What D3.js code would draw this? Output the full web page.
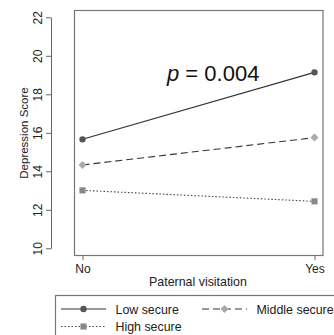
<!DOCTYPE html>
<html><head><meta charset="utf-8">
<script src="https://cdn.jsdelivr.net/npm/d3@7"></script>
<style>body{margin:0;background:#fff}svg{display:block;font-family:"Liberation Sans",Arial,sans-serif}</style>
</head><body>
<svg id="c" width="334" height="335"></svg>
<script>
const categories = ["No", "Yes"];
const seriesNames = ["Low secure", "Middle secure", "High secure"];
const lowSecure = [15.66, 19.14];
const middleSecure = [14.33, 15.75];
const highSecure = [13.01, 12.44];
const yTicks = [10, 12, 14, 16, 18, 20, 22];
const annotation = "0.004";

const svg = d3.select("#c");
const x = d3.scalePoint().domain(categories).range([82.5, 314.5]);
const y = d3.scaleLinear().domain([10, 22]).range([248.3, 17.3]);

// plot box
svg.append("rect").attr("x", 74.5).attr("y", 10.5).attr("width", 248.5).attr("height", 245)
  .attr("fill", "none").attr("stroke", "#777").attr("stroke-width", 1.2);

// y axis
const ya = svg.append("g").attr("transform", "translate(51,0)")
  .call(d3.axisLeft(y).tickValues(yTicks).tickSize(5).tickSizeOuter(0));
ya.select(".domain").attr("stroke", "#666");
ya.selectAll(".tick line").attr("stroke", "#666");
ya.selectAll(".tick text").attr("font-size", 12).attr("fill", "#222")
  .attr("transform", "rotate(-90)").attr("x", 0).attr("y", -9)
  .attr("text-anchor", "middle").attr("dy", "0");

// x axis
const xa = svg.append("g").attr("transform", "translate(0,255)")
  .call(d3.axisBottom(x).tickSize(5).tickSizeOuter(0));
xa.select(".domain").remove();
xa.selectAll(".tick line").attr("stroke", "#666");
xa.selectAll(".tick text").attr("font-size", 12).attr("fill", "#222").attr("y", 9).attr("dy", "0.71em");

// axis titles
svg.append("text").attr("transform", "translate(28,133) rotate(-90)")
  .attr("text-anchor", "middle").attr("font-size", 11.5).attr("fill", "#222").text("Depression Score");
svg.append("text").attr("x", 198).attr("y", 285.5).attr("text-anchor", "middle")
  .attr("font-size", 12.4).attr("fill", "#222").text("Paternal visitation");

// series
const series = [
  {name: seriesNames[0], values: lowSecure, dash: null, stroke: "#333", marker: "circle", fill: "#555"},
  {name: seriesNames[1], values: middleSecure, dash: "7,4", stroke: "#333", marker: "diamond", fill: "#aaa"},
  {name: seriesNames[2], values: highSecure, dash: "1.5,2", stroke: "#444", marker: "square", fill: "#888"}
];
const markerPath = {
  circle: d3.symbol().type(d3.symbolCircle).size(32),
  diamond: d3.symbol().type(d3.symbolSquare).size(32),
  square: d3.symbol().type(d3.symbolSquare).size(38)
};
const line = d3.line().x((d, i) => x(categories[i])).y(d => y(d));
series.forEach(s => {
  svg.append("path").datum(s.values).attr("d", line).attr("fill", "none")
    .attr("stroke", s.stroke).attr("stroke-width", 1.1).attr("stroke-dasharray", s.dash);
  s.values.forEach((v, i) => {
    svg.append("path").attr("d", markerPath[s.marker]())
      .attr("transform", `translate(${x(categories[i])},${y(v)})` + (s.marker === "diamond" ? " rotate(45)" : ""))
      .attr("fill", s.fill);
  });
});

// annotation
const ann = svg.append("text").attr("x", 167).attr("y", 81).attr("font-size", 22).attr("fill", "#111");
ann.append("tspan").attr("font-style", "italic").text("p");
ann.append("tspan").text(" = " + annotation);

// legend
svg.append("rect").attr("x", 55.5).attr("y", 295.5).attr("width", 290).attr("height", 60)
  .attr("fill", "none").attr("stroke", "#777").attr("stroke-width", 1.2);
const legPos = [[61, 309], [202, 309], [61, 326.5]];
series.forEach((s, k) => {
  const [lx, ly] = legPos[k];
  svg.append("line").attr("x1", lx).attr("x2", lx + 45).attr("y1", ly).attr("y2", ly)
    .attr("stroke", s.stroke).attr("stroke-width", 1.1).attr("stroke-dasharray", s.dash);
  svg.append("path").attr("d", markerPath[s.marker]())
    .attr("transform", `translate(${lx + 22.5},${ly})` + (s.marker === "diamond" ? " rotate(45)" : ""))
    .attr("fill", s.fill);
  svg.append("text").attr("x", lx + 54.5).attr("y", ly + 4.5).attr("font-size", 12.4)
    .attr("fill", "#222").text(s.name);
});
</script>
</body></html>
